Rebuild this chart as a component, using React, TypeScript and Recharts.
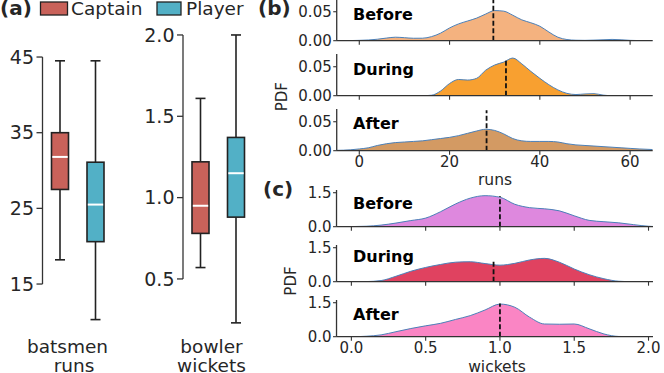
import React from 'react';
import { BarChart, Bar, XAxis, YAxis, Cell, ReferenceLine, AreaChart, Area } from 'recharts';

const FONT = '"DejaVu Sans", sans-serif';
const INK = '#262626';
const AXIS = '#333333';

// ---------- panel (a): box plots ----------
const groups = ['Captain', 'Player'];
const groupColors = ['#c9625a', '#52b0c6'];

const runsLow = [18.2, 10.3];
const runsQ1 = [27.5, 20.6];
const runsMedian = [31.8, 25.5];
const runsQ3 = [35.0, 31.1];
const runsHigh = [44.5, 44.5];
const runsBoxTicks = [15, 25, 35, 45];

const wicketsLow = [0.57, 0.23];
const wicketsQ1 = [0.78, 0.88];
const wicketsMedian = [0.95, 1.15];
const wicketsQ3 = [1.22, 1.37];
const wicketsHigh = [1.61, 2.0];
const wicketsBoxTicks = [0.5, 1.0, 1.5, 2.0];

// ---------- panel (b): runs densities ----------
const phases = ['Before', 'During', 'After'];
const runsGrid = [-5, -2, 0, 2, 4, 6, 8, 10, 12, 14, 16, 18, 20, 22, 24, 26, 28, 30, 32, 34, 36, 38, 40, 42, 44, 46, 48, 50, 52, 54, 56, 58, 60, 62, 65];
const runsBefore = [0, 0.0002, 0.0006, 0.0012, 0.0025, 0.0045, 0.006, 0.0052, 0.0042, 0.0043, 0.007, 0.013, 0.022, 0.029, 0.034, 0.039, 0.046, 0.052, 0.051, 0.044, 0.036, 0.031, 0.025, 0.015, 0.006, 0.002, 0.0008, 0.0006, 0.001, 0.0016, 0.0022, 0.0016, 0.0006, 0.0002, 0];
const runsDuring = [0, 0, 0, 0, 0, 0, 0, 0, 0, 0, 0.0008, 0.008, 0.021, 0.028, 0.027, 0.03, 0.044, 0.053, 0.058, 0.065, 0.055, 0.042, 0.03, 0.019, 0.01, 0.004, 0.002, 0.003, 0.0035, 0.001, 0, 0, 0, 0, 0];
const runsAfter = [0.0006, 0.0015, 0.003, 0.005, 0.009, 0.012, 0.014, 0.015, 0.016, 0.017, 0.019, 0.021, 0.023, 0.026, 0.03, 0.034, 0.037, 0.035, 0.029, 0.021, 0.017, 0.016, 0.016, 0.016, 0.015, 0.012, 0.01, 0.009, 0.008, 0.007, 0.006, 0.005, 0.004, 0.003, 0.002];
const runsMeans = [29.7, 32.5, 28.2];
const runsMarkTops = [0.072, 0.0635, 0.07];
const runsXTicks = [0, 20, 40, 60];
const runsYTicks = [0, 0.05];

// ---------- panel (c): wickets densities ----------
const wicketsGrid = [-0.1, 0, 0.1, 0.2, 0.3, 0.4, 0.5, 0.6, 0.7, 0.8, 0.9, 1.0, 1.1, 1.2, 1.3, 1.4, 1.5, 1.6, 1.7, 1.8, 1.9, 2.0, 2.03];
const wicketsBefore = [0, 0.005, 0.02, 0.07, 0.16, 0.27, 0.38, 0.66, 1.0, 1.26, 1.37, 1.3, 0.99, 0.84, 0.79, 0.7, 0.48, 0.28, 0.22, 0.17, 0.09, 0.02, 0.01];
const wicketsDuring = [0, 0, 0.005, 0.05, 0.24, 0.46, 0.63, 0.76, 0.86, 0.88, 0.8, 0.73, 0.81, 0.96, 1.03, 0.86, 0.56, 0.31, 0.13, 0.02, 0, 0, 0];
const wicketsAfter = [0, 0, 0.02, 0.08, 0.22, 0.36, 0.48, 0.59, 0.76, 0.93, 1.18, 1.44, 1.3, 0.86, 0.56, 0.55, 0.56, 0.35, 0.12, 0.01, 0, 0, 0];
const wicketsMeans = [1.0, 0.957, 1.0];
const wicketsMarkTops = [1.35, 0.975, 1.47];
const wicketsXTicks = [0, 0.5, 1.0, 1.5, 2.0];
const wicketsYTicks = [0, 1.5];

const runsFills = ['#f4b27f', '#f8a030', '#d39a63'];
const wicketsFills = ['#de88de', '#e04260', '#fa85c4'];

function buildBox(low: number[], q1: number[], med: number[], q3: number[], high: number[]) {
  return groups.map((name, i) => ({ name, whisker: [low[i], high[i]], q1: q1[i], median: med[i], q3: q3[i] }));
}

const BoxShape = (props: any) => {
  const { x, y, width, height, payload, fill } = props;
  const [lo, hi] = payload.whisker;
  const px = (v: number) => y + (height * (hi - v)) / (hi - lo);
  const cx = x + width / 2;
  const top = px(payload.q3);
  const bot = px(payload.q1);
  const med = px(payload.median);
  const s = '#222';
  return (
    <g>
      <line x1={cx} x2={cx} y1={y} y2={top} stroke={s} strokeWidth={1.6} />
      <line x1={cx} x2={cx} y1={bot} y2={y + height} stroke={s} strokeWidth={1.6} />
      <line x1={cx - 5} x2={cx + 5} y1={y} y2={y} stroke={s} strokeWidth={1.6} />
      <line x1={cx - 5} x2={cx + 5} y1={y + height} y2={y + height} stroke={s} strokeWidth={1.6} />
      <rect x={x} y={top} width={width} height={bot - top} fill={fill} stroke={s} strokeWidth={1.6} />
      <line x1={x + 0.8} x2={x + width - 0.8} y1={med} y2={med} stroke="#ffffff" strokeWidth={2} />
    </g>
  );
};

function BoxChart(p: { data: any[]; ticks: number[]; domain: [number, number]; left: number; width: number; yw: number; mt: number; mb: number; mr: number; fmt: (v: number) => string }) {
  const tickStyle = { fontFamily: FONT, fontSize: 19, fill: INK };
  return (
    <div style={{ position: 'absolute', left: p.left, top: 0 }}>
      <BarChart width={p.width} height={373} data={p.data} margin={{ top: p.mt, right: p.mr, bottom: p.mb, left: 0 }} barSize={17}>
        <XAxis dataKey="name" hide />
        <YAxis
          type="number"
          domain={p.domain}
          ticks={p.ticks}
          width={p.yw}
          axisLine={false}
          tickLine={{ stroke: AXIS, strokeWidth: 1.3 }}
          tickSize={6}
          tickMargin={2.5}
          tick={tickStyle}
          tickFormatter={p.fmt}
          interval={0}
        />
        <ReferenceLine
          segment={[{ x: groups[0], y: p.ticks[0] }, { x: groups[0], y: p.ticks[p.ticks.length - 1] }]}
          position="start"
          stroke={AXIS}
          strokeWidth={1.3}
        />
        <Bar dataKey="whisker" shape={BoxShape} isAnimationActive={false}>
          {p.data.map((d, i) => (
            <Cell key={d.name} fill={groupColors[i]} />
          ))}
        </Bar>
      </BarChart>
    </div>
  );
}

function Density(p: {
  grid: number[]; values: number[]; fill: string; plotTop: number; plotH: number; plotLeft: number; plotW: number;
  xDomain: [number, number]; yDomain: [number, number]; xTicks: number[]; yTicks: number[];
  showX: boolean; xFmt: (v: number) => string; yFmt: (v: number) => string; mean: number; markTop: number;
}) {
  const data = p.grid.map((x, i) => ({ x, y: p.values[i] }));
  const W = 380;
  const left = 280;
  const yw = p.plotLeft - left;
  const tickStyle = { fontFamily: FONT, fontSize: 15, fill: INK };
  return (
    <div style={{ position: 'absolute', left, top: p.plotTop - 10 }}>
      <AreaChart width={W} height={10 + p.plotH + 40} data={data} margin={{ top: 10, right: W - yw - p.plotW, bottom: 0, left: 0 }}>
        <XAxis
          dataKey="x"
          type="number"
          domain={p.xDomain}
          ticks={p.xTicks}
          height={40}
          axisLine={{ stroke: AXIS, strokeWidth: 1.3 }}
          tickLine={{ stroke: AXIS, strokeWidth: 1.1 }}
          tickSize={4}
          tickMargin={2}
          tick={tickStyle}
          tickFormatter={p.showX ? p.xFmt : () => ''}
          interval={0}
          allowDataOverflow
        />
        <YAxis
          type="number"
          domain={p.yDomain}
          ticks={p.yTicks}
          width={yw}
          axisLine={{ stroke: AXIS, strokeWidth: 1.3 }}
          tickLine={{ stroke: AXIS, strokeWidth: 1.1 }}
          tickSize={3.5}
          tickMargin={1.5}
          tick={tickStyle}
          tickFormatter={p.yFmt}
          interval={0}
          allowDataOverflow
        />
        <Area type="monotone" dataKey="y" stroke="#4a80b8" strokeWidth={1} fill={p.fill} fillOpacity={1} dot={false} activeDot={false} isAnimationActive={false} />
        <ReferenceLine
          segment={[{ x: p.mean, y: 0 }, { x: p.mean, y: p.markTop }]}
          stroke="#111111"
          strokeWidth={1.8}
          strokeDasharray="5 2.5"
        />
      </AreaChart>
    </div>
  );
}

export default function App() {
  const runsBox = buildBox(runsLow, runsQ1, runsMedian, runsQ3, runsHigh);
  const wicketsBox = buildBox(wicketsLow, wicketsQ1, wicketsMedian, wicketsQ3, wicketsHigh);
  const runsSeries = [runsBefore, runsDuring, runsAfter];
  const wicketsSeries = [wicketsBefore, wicketsDuring, wicketsAfter];
  const runsBase = [41, 96, 150.7];
  const wicketsBase = [226.7, 281.7, 336.7];
  const txt = { fontFamily: FONT, fill: INK } as const;
  const bold = { fontFamily: FONT, fill: '#000', fontWeight: 'bold' } as const;

  return (
    <div style={{ position: 'fixed', left: 0, top: 0, width: 664, height: 373, background: '#ffffff', overflow: 'hidden' }}>
      <BoxChart data={runsBox} ticks={runsBoxTicks} domain={[8, 47]} left={0} width={120} yw={42.5} mt={41.9} mb={36} mr={6.5} fmt={(v) => String(v)} />
      <BoxChart data={wicketsBox} ticks={wicketsBoxTicks} domain={[0.1, 2.1]} left={120} width={140} yw={63} mt={18.7} mb={29} mr={6} fmt={(v) => v.toFixed(1)} />

      {phases.map((ph, i) => (
        <Density
          key={'r' + ph}
          grid={runsGrid}
          values={runsSeries[i]}
          fill={runsFills[i]}
          plotTop={runsBase[i] - 41.7}
          plotH={41.7}
          plotLeft={336.7}
          plotW={316}
          xDomain={[-5, 65]}
          yDomain={[0, 0.072]}
          xTicks={runsXTicks}
          yTicks={runsYTicks}
          showX={i === 2}
          xFmt={(v) => String(v)}
          yFmt={(v) => v.toFixed(2)}
          mean={runsMeans[i]}
          markTop={runsMarkTops[i]}
        />
      ))}
      {phases.map((ph, i) => (
        <Density
          key={'w' + ph}
          grid={wicketsGrid}
          values={wicketsSeries[i]}
          fill={wicketsFills[i]}
          plotTop={wicketsBase[i] - 36.7}
          plotH={36.7}
          plotLeft={336.5}
          plotW={316.5}
          xDomain={[-0.1, 2.03]}
          yDomain={[0, 1.62]}
          xTicks={wicketsXTicks}
          yTicks={wicketsYTicks}
          showX={i === 2}
          xFmt={(v) => v.toFixed(1)}
          yFmt={(v) => v.toFixed(1)}
          mean={wicketsMeans[i]}
          markTop={wicketsMarkTops[i]}
        />
      ))}

      <svg width={664} height={373} style={{ position: 'absolute', left: 0, top: 0, pointerEvents: 'none' }}>
        <text x={0} y={15} fontSize={20} {...bold} fill={INK}>(a)</text>
        <rect x={40.5} y={2} width={27} height={13} fill={groupColors[0]} stroke="#222" strokeWidth={1.3} />
        <text x={71} y={15} fontSize={18.5} {...txt}>{groups[0]}</text>
        <rect x={157} y={2} width={24} height={13} fill={groupColors[1]} stroke="#222" strokeWidth={1.3} />
        <text x={186} y={15} fontSize={18.5} {...txt}>{groups[1]}</text>

        <text x={67.5} y={353} textAnchor="middle" fontSize={18.5} {...txt}>batsmen</text>
        <text x={74} y={372} textAnchor="middle" fontSize={18.5} {...txt}>runs</text>
        <text x={211.5} y={353} textAnchor="middle" fontSize={18.5} {...txt}>bowler</text>
        <text x={211.5} y={372} textAnchor="middle" fontSize={18.5} {...txt}>wickets</text>

        <text x={258} y={15} fontSize={20} {...bold} fill={INK}>(b)</text>
        <text x={263} y={196} fontSize={20} {...bold} fill={INK}>(c)</text>

        {phases.map((ph, i) => (
          <text key={'bl' + ph} x={353} y={[14, 69, 123][i]} dominantBaseline="central" fontSize={16} {...bold}>{ph}</text>
        ))}
        {phases.map((ph, i) => (
          <text key={'cl' + ph} x={353} y={[203.5, 256.7, 314][i]} dominantBaseline="central" fontSize={16} {...bold}>{ph}</text>
        ))}

        <text x={282.5} y={96.7} transform="rotate(-90 282.5 96.7)" textAnchor="middle" dominantBaseline="central" fontSize={15} {...txt}>PDF</text>
        <text x={291} y={281} transform="rotate(-90 291 281)" textAnchor="middle" dominantBaseline="central" fontSize={15} {...txt}>PDF</text>
        <text x={495} y={180} textAnchor="middle" dominantBaseline="central" fontSize={15.5} {...txt}>runs</text>
        <text x={497} y={371.5} textAnchor="middle" fontSize={15.5} {...txt}>wickets</text>
      </svg>
    </div>
  );
}
